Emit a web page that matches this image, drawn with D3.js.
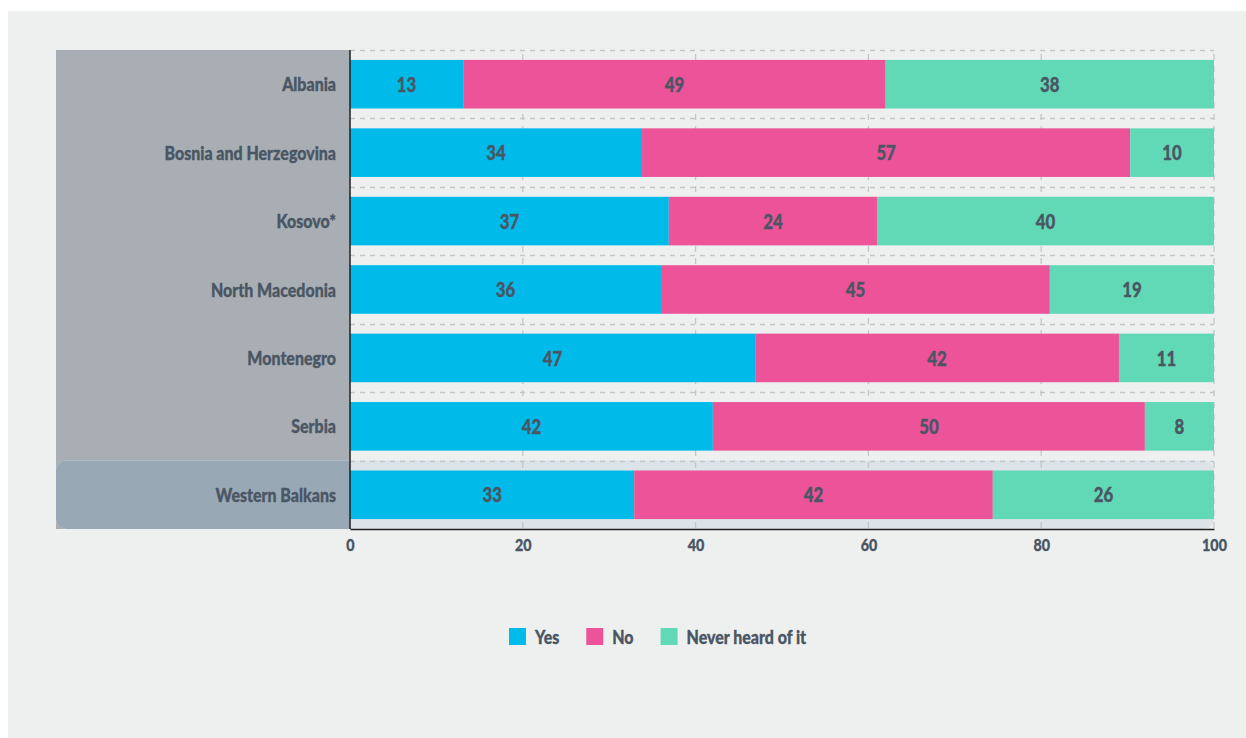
<!DOCTYPE html>
<html><head><meta charset="utf-8">
<script src="https://cdn.jsdelivr.net/npm/d3@7/dist/d3.min.js"></script>
<style>body{margin:0;background:#fff}svg text{font-family:Lato,"Open Sans",sans-serif;font-weight:900}</style>
</head><body>
<svg id="c" width="1246" height="738"></svg>
<script>
const countries = ["Albania","Bosnia and Herzegovina","Kosovo*","North Macedonia","Montenegro","Serbia","Western Balkans"];
const yesValues   = [13.1, 33.8, 36.9, 36.0, 46.9, 42.0, 32.9];
const noValues    = [48.9, 56.5, 24.1, 45.0, 42.1, 50.0, 41.5];
const neverValues = [38.0,  9.7, 39.5, 19.0, 11.0,  8.0, 25.6];
const seriesNames = ["Yes","No","Never heard of it"];
const seriesColors = ["#00bbea","#ec5398","#61d9b6"];
const xTickValues = [0,20,40,60,80,100];
const highlighted = "Western Balkans";

const textColor = "#4a5664";
const SX = 0.84; // horizontal condensing of the bold sans font
const svg = d3.select("#c");
const L = 350, R = 1214, T = 50, B = 529;

function condensedText(parent, px, py, str, size, anchor){
  return parent.append("text")
    .attr("transform",`translate(${px},${py}) scale(${SX},1)`)
    .attr("text-anchor",anchor).attr("dominant-baseline","central")
    .attr("font-size",size).attr("fill",textColor)
    .attr("stroke",textColor).attr("stroke-width",0.35)
    .text(str);
}

svg.append("rect").attr("x",8).attr("y",11).attr("width",1238).attr("height",727).attr("fill","#eef0ef");

const x = d3.scaleLinear().domain([0,100]).range([L,R]).clamp(true);
const y = d3.scaleBand().domain(countries).range([T,B]).paddingInner(0.29).paddingOuter(0.145);
const step = y.step();
const rowTop = c => y(c) - step*0.145;

// label panel
svg.append("rect").attr("x",56).attr("y",T).attr("width",L-56).attr("height",B-T).attr("fill","#a8aeb3");

// highlight row
const defs = svg.append("defs");
defs.append("clipPath").attr("id","lp").append("rect").attr("x",0).attr("y",0).attr("width",L).attr("height",738);
const hy = rowTop(highlighted);
svg.append("rect").attr("x",56).attr("y",hy).attr("width",R-56).attr("height",B-hy).attr("rx",10).attr("fill","#dce3e9");
svg.append("rect").attr("x",56).attr("y",hy).attr("width",R-56).attr("height",B-hy).attr("rx",10).attr("fill","#98a9b5").attr("clip-path","url(#lp)");

// gridlines
const grid = svg.append("g").attr("stroke","#c4c6c8").attr("stroke-width",1.3);
grid.selectAll("line.h").data(countries).join("line").attr("class","h").attr("stroke-dasharray","5,5")
  .attr("x1",L).attr("x2",R).attr("y1",d=>Math.round(rowTop(d))+0.5).attr("y2",d=>Math.round(rowTop(d))+0.5);
grid.selectAll("line.v").data(xTickValues.slice(1)).join("line").attr("class","v").attr("stroke-dasharray","6,6")
  .attr("x1",d=>x(d)).attr("x2",d=>x(d)).attr("y1",T+4).attr("y2",B);

// stacked bars
const rows = countries.map((c,i)=>({country:c, Yes:yesValues[i], No:noValues[i], "Never heard of it":neverValues[i]}));
const stack = d3.stack().keys(seriesNames)(rows);
const gBars = svg.append("g");
const gVals = svg.append("g");
stack.forEach((s,si)=>{
  gBars.append("g").attr("fill",seriesColors[si]).selectAll("rect").data(s).join("rect")
    .attr("x",d=>x(d[0])).attr("y",d=>y(d.data.country))
    .attr("width",d=>x(d[1])-x(d[0])).attr("height",y.bandwidth());
  s.forEach(d=>{
    condensedText(gVals,(x(d[0])+x(d[1]))/2, y(d.data.country)+y.bandwidth()/2, Math.round(d[1]-d[0]), 20, "middle");
  });
});

// category labels
const gLab = svg.append("g");
countries.forEach(c=>condensedText(gLab, L-14, y(c)+y.bandwidth()/2, c, 19, "end"));

// axes
const xAxis = svg.append("g").attr("transform",`translate(0,${B})`)
  .call(d3.axisBottom(x).tickValues(xTickValues).tickSize(0).tickSizeOuter(0).tickFormat(""));
xAxis.select(".domain").attr("stroke","#1f1f1f").attr("stroke-width",1.5);
xAxis.selectAll(".tick").each(function(d){
  condensedText(d3.select(this), 0, 16, d, 17, "middle");
});
svg.append("line").attr("x1",L).attr("x2",L).attr("y1",T).attr("y2",B).attr("stroke","#1f1f1f").attr("stroke-width",1.5);

// legend
const lg = svg.append("g");
let lx = 509;
seriesNames.forEach((n,i)=>{
  lg.append("rect").attr("x",lx).attr("y",628).attr("width",17).attr("height",17).attr("fill",seriesColors[i]);
  const t = condensedText(lg, lx+26, 636.5, n, 19, "start");
  lx += 26 + t.node().getComputedTextLength()*SX + 27;
});
</script>
</body></html>
